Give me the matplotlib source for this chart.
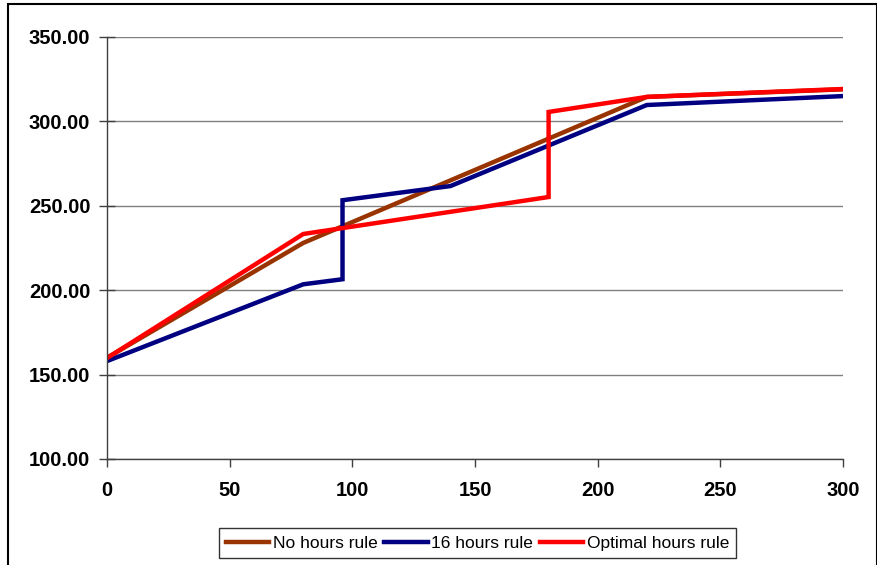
import matplotlib.pyplot as plt
from matplotlib.patches import Rectangle

plt.rcParams['font.family'] = ['Liberation Sans', 'DejaVu Sans']

# series
x_none = [0, 80, 220, 300]
y_none = [160, 228, 314.5, 319]

x_16 = [0, 80, 96, 96, 140, 220, 300]
y_16 = [158, 203.5, 206.5, 253.3, 261.7, 309.7, 315]

x_opt = [0, 80, 180, 180, 220, 300]
y_opt = [159.8, 233.3, 255.2, 305.6, 314.5, 319.2]

labels = ['No hours rule', '16 hours rule', 'Optimal hours rule']
colors = ['#993300', '#000080', '#FF0000']

x_ticks = [0, 50, 100, 150, 200, 250, 300]
y_ticks = [100, 150, 200, 250, 300, 350]

fig = plt.figure(figsize=(8.78, 5.65), dpi=100)
ax = fig.add_axes([107 / 878, 1 - 459 / 565, (843 - 107) / 878, (459 - 37) / 565])

ax.plot(x_none, y_none, color=colors[0], lw=3.2, label=labels[0], solid_joinstyle='miter')
ax.plot(x_16, y_16, color=colors[1], lw=3.2, label=labels[1], solid_joinstyle='miter')
ax.plot(x_opt, y_opt, color=colors[2], lw=3.2, label=labels[2], solid_joinstyle='miter')

ax.set_xlim(0, 300)
ax.set_ylim(100, 350)
ax.set_xticks(x_ticks)
ax.set_yticks(y_ticks)
ax.set_yticklabels([f'{v:.2f}' for v in y_ticks])
ax.grid(axis='y', color='#808080', lw=1)
ax.set_axisbelow(True)
for s in ['top', 'right']:
    ax.spines[s].set_visible(False)
for s in ['left', 'bottom']:
    ax.spines[s].set_color('#404040')
    ax.spines[s].set_linewidth(1)
ax.tick_params(axis='y', direction='inout', length=12, width=1, color='#404040', pad=6)
ax.tick_params(axis='x', direction='out', length=6, width=1, color='#404040', pad=10)
for t in ax.get_xticklabels() + ax.get_yticklabels():
    t.set_fontweight('bold')
    t.set_fontsize(14.5)

fig.legend(loc='center', bbox_to_anchor=(477.5 / 878, 1 - 543 / 565), ncol=3,
           frameon=True, fancybox=False, edgecolor='black', fontsize=12.5,
           handlelength=2.5, handletextpad=0.2, columnspacing=0.4,
           borderpad=0.4, borderaxespad=0)

# outer chart frame
fig.patches.append(Rectangle((8 / 878, -0.05), (877 - 8) / 878, 1.05 - 4 / 565,
                             transform=fig.transFigure, fill=False,
                             edgecolor='black', lw=1.5))

fig.savefig('out.png', dpi=100)
